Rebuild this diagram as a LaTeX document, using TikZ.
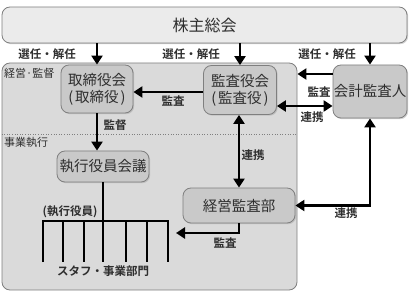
\documentclass[tikz,border=0pt]{standalone}
\usepackage{fontspec}
\setmainfont{Noto Sans CJK JP}[BoldFont={Noto Sans CJK JP Bold}]
\usepackage{tikz}
\usetikzlibrary{arrows.meta,positioning,calc,shadows}
\definecolor{TopGray}{HTML}{EBEBEB}
\definecolor{RegionGray}{HTML}{DADADA}
\definecolor{NodeGray}{HTML}{C9C9C9}
\definecolor{EdgeGray}{HTML}{7F7F7F}
\definecolor{TextGray}{HTML}{2E2E2E}
\newcommand{\pl}{(\kern2pt}
\newcommand{\pr}{\kern2pt)}
\tikzset{
    % Base node style
    basenode/.style={
        draw=EdgeGray,
        fill=NodeGray,
        line width=0.8pt,
        rounded corners=8pt,
        align=center,
        text=TextGray,
        font=\fontsize{14.5}{17}\selectfont,
        inner sep=0pt,
        drop shadow={shadow xshift=1.2pt, shadow yshift=-1.2pt, fill=black!35}
    },
    % Shareholders meeting
    topbox/.style={
        basenode,
        fill=TopGray,
        drop shadow={shadow xshift=0pt, shadow yshift=0pt, opacity=0},
        font=\fontsize{16}{19}\selectfont
    },
    % Management region
    regionbox/.style={
        draw=EdgeGray,
        fill=RegionGray,
        line width=0.8pt,
        rounded corners=8pt
    },
    % Edge labels
    lbl/.style={
        font=\bfseries\fontsize{11.5}{13}\selectfont,
        text=TextGray,
        inner sep=0pt
    },
    % Region labels
    arealbl/.style={
        font=\fontsize{11}{13}\selectfont,
        text=TextGray,
        anchor=west,
        inner sep=0pt
    },
    % Arrow styles
    myarrow/.style={
        -{Triangle[length=9pt,width=11pt]},
        line width=2.3pt,
        draw=black
    },
    biarrow/.style={
        {Triangle[length=9pt,width=11pt]}-{Triangle[length=9pt,width=11pt]},
        line width=2.3pt,
        draw=black
    },
    % Organisation lines
    orgline/.style={
        line width=1.8pt,
        draw=black
    }
}
\begin{document}
\begin{tikzpicture}[x=1pt, y=-1pt]
    \useasboundingbox (0,0) rectangle (409,299);

    \node[topbox, minimum width=405pt, minimum height=36pt] (meeting) at (204.5,25) {株主総会};
    \node[regionbox, minimum width=295pt, minimum height=227pt] (region) at (149.5,176.5) {};
    \draw[EdgeGray, dotted, line width=0.6pt] (region.west |- 0,134) -- (region.east |- 0,134);
    \node[arealbl] (mgmtlbl) at (4,73) {経営·監督};
    \node[arealbl] (execlbl) at (4,142) {事業執行};

    \node[basenode, minimum width=72pt, minimum height=48pt] (board) at (97,89) {取締役会\\\pl 取締役\pr};
    \node[basenode, minimum width=73pt, minimum height=49pt] (auditboard) at (240,90) {監査役会\\\pl 監査役\pr};
    \node[basenode, minimum width=74pt, minimum height=53pt] (accountant) at (370,91.5) {会計監査人};
    \node[basenode, minimum width=92pt, minimum height=31pt] (execmeeting) at (103,166.5) {執行役員会議};
    \node[basenode, minimum width=112pt, minimum height=35pt] (internal) at (239,205.5) {経営監査部};

    % election arrows
    \draw[myarrow] (meeting.south -| board.north) -- (board.north);
    \draw[myarrow] (meeting.south -| auditboard.north) -- (auditboard.north);
    \draw[myarrow] (meeting.south -| accountant.north) -- (accountant.north);
    \node[lbl] (sel1) at (47,54) {選任・解任};
    \node[lbl] (sel2) at (191,54) {選任・解任};
    \node[lbl] (sel3) at (327,54) {選任・解任};

    % audit and cooperation
    \draw[myarrow] (auditboard.west |- 0,92) -- (board.east |- 0,92);
    \node[lbl] (aud1) at (173,101) {監査};
    \draw[myarrow] (accountant.west |- 0,74) -- (region.east |- 0,74);
    \node[lbl] (aud2) at (319,92) {監査};
    \draw[biarrow] (auditboard.east |- 0,106) -- (accountant.west |- 0,106);
    \node[lbl] (coop1) at (312,117) {連携};
    \draw[myarrow] (board.south) -- (board.south |- execmeeting.north);
    \node[lbl] (sup1) at (115,125) {監督};
    \draw[biarrow] (auditboard.south -| internal.north) -- (internal.north);
    \node[lbl] (coop2) at (253,155) {連携};
    \draw[biarrow] (accountant.south) |- (internal.east);
    \node[lbl] (coop3) at (346,213) {連携};

    % organisation
    \coordinate (deptR) at (176,233);
    \draw[myarrow] (internal.south) |- (deptR);
    \node[lbl] (aud3) at (225,243) {監査};
    \draw[orgline] (execmeeting.south) -- (execmeeting.south |- 0,262);
    \draw[orgline] (43,262) -- (43,221) -- (168,221) -- (168,262);
    \foreach \x in {63,84,126,147}
        \draw[orgline] (\x,221) -- (\x,262);
    \node[lbl] (officers) at (70,212) {(執行役員)};
    \node[lbl] (depts) at (103,271) {スタフ・事業部門};
\end{tikzpicture}
\end{document}
